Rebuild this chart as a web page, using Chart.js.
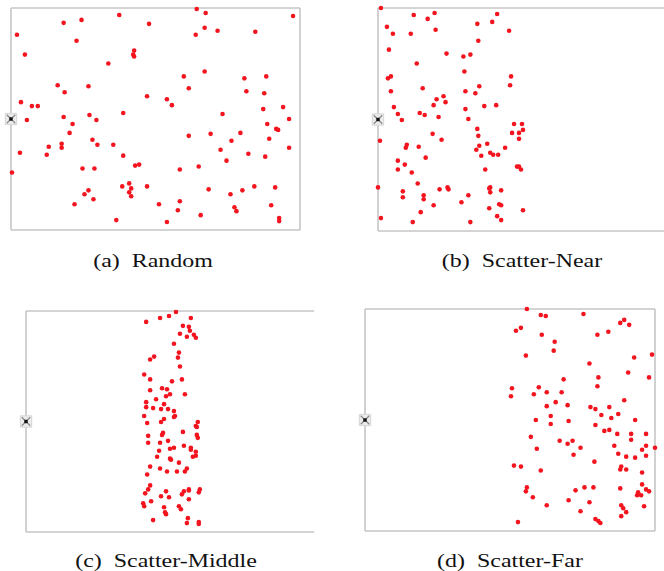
<!DOCTYPE html>
<html>
<head>
<meta charset="utf-8">
<script src="https://cdn.jsdelivr.net/npm/chart.js@4.4.1/dist/chart.umd.min.js"></script>
<style>
  html, body { margin: 0; padding: 0; background: #fff; overflow: hidden; }
  body { width: 664px; height: 571px; position: relative; }
  .panel { position: absolute; }
  .cap {
    position: absolute;
    font-family: "Liberation Serif", "Times New Roman", serif;
    font-size: 19px;
    color: #111;
    white-space: nowrap;
    transform: translate(-50%, -50%) scaleX(1.26);
  }
</style>
</head>
<body>
<div class="panel" id="pa"><canvas></canvas></div>
<div class="panel" id="pb"><canvas></canvas></div>
<div class="panel" id="pc"><canvas></canvas></div>
<div class="panel" id="pd"><canvas></canvas></div>
<div class="cap" style="left:153px;top:261px">(a)&nbsp; Random</div>
<div class="cap" style="left:522px;top:261px">(b)&nbsp; Scatter-Near</div>
<div class="cap" style="left:166px;top:561px">(c)&nbsp; Scatter-Middle</div>
<div class="cap" style="left:510px;top:561px">(d)&nbsp; Scatter-Far</div>
<script>
/* globals Chart:false */

// sensor positions, in field units (x from the left edge, y from the top edge)
const randomX = [109,71,53,139,6,66,124,123,124,14,98,47,78,54,137,10,21,27,113,79,53,16,86,62,59,82,51,87,103,38,51,9,36,113,129,125,1,72,84,119,112,121,137,78,119,74,121,83,64,149,106,
  187,196,284,195,208,186,246,195,174,257,235,179,237,255,157,162,254,274,213,280,258,267,269,179,201,231,222,260,280,211,239,256,217,189,170,199,245,266,233,221,170,262,168,225,227,191,270,270,157]
const randomY = [7,12,15,16,27,33,43,47,49,47,56,78,79,85,89,95,99,99,106,108,110,113,113,117,126,133,137,138,138,140,141,146,148,149,158,159,166,162,162,177,180,182,180,184,186,188,190,193,198,198,214,
  1,5,8,20,23,27,24,64,69,69,71,81,84,86,92,98,102,100,107,112,117,122,123,129,127,126,134,132,141,143,147,150,154,160,163,183,180,181,184,188,195,199,204,201,205,209,212,215,216]

const nearX = [3,36,57,50,120,100,115,9,15,33,58,132,101,11,69,86,93,39,87,13,10,134,133,102,45,13,88,98,66,59,
  68,56,16,107,119,88,20,42,47,61,24,91,137,145,146,100,135,142,55,101,142,2,64,29,28,41,102,110,99,128,
  113,116,121,104,48,20,27,140,142,144,20,34,108,40,0,70,71,62,113,112,124,25,113,46,91,25,46,84,56,122,
  124,112,146,43,120,3,124,35,93]
const nearY = [0,7,5,11,6,16,14,19,26,26,22,23,33,42,46,49,47,56,64,69,71,69,78,79,81,84,84,86,89,92,
  95,98,100,99,98,102,107,106,108,110,113,112,117,117,123,122,126,126,127,129,132,134,133,138,141,140,139,137,143,141,
  146,148,148,149,151,154,158,160,160,163,163,166,163,177,181,181,183,183,181,182,184,185,186,189,189,191,193,196,199,198,
  199,202,204,206,210,212,214,216,216]

const middleX = [121,125,119,125,125,121,121,128,119,122,123,123,125,122,125,123,120,126,118,119,128,
  151,144,135,166,158,164,165,155,169,162,171,149,154,153,129,155,147,157,137,142,
  145,141,160,131,139,136,143,149,150,149,139,136,173,171,172,158,138,137,172,173,
  135,143,159,149,145,166,166,134,171,171,168,132,145,146,154,135,162,142,152,160,
  141,164,164,159,175,174,157,136,144,164,139,154,156,140,141,163,174,162,174]
const middleY = [11,49,64,69,80,92,97,98,106,113,126,133,157,165,176,180,184,192,194,197,211,
  1,5,7,7,15,16,20,23,24,26,27,33,42,47,46,56,71,69,78,79,
  84,86,84,89,94,99,99,101,106,107,109,112,112,116,117,122,123,125,125,128,
  133,131,136,138,139,138,140,141,142,146,147,147,149,150,153,159,159,162,162,162,
  182,180,181,182,180,183,185,187,188,190,198,197,200,203,205,209,213,214,215]

const farX = [163,177,182,220,261,257,266,157,152,178,234,245,191,190,162,289,271,226,265,235,
  286,200,234,148,175,183,198,170,147,261,192,183,204,227,232,246,238,255,187,248,
  172,205,272,187,232,241,246,254,268,283,167,268,196,209,204,251,283,292,217,173,
  279,255,210,283,263,272,231,150,157,258,257,263,177,279,279,163,162,212,221,230,
  257,283,286,275,274,278,169,205,226,183,258,281,260,263,217,258,232,235,237,154]
const farY = [0,6,7,5,11,14,16,19,22,26,26,23,33,42,47,46,49,55,64,69,
  69,71,78,80,79,84,84,86,88,92,94,98,97,99,101,99,107,106,108,110,
  112,113,112,116,117,123,122,126,126,126,129,132,133,133,136,138,138,140,140,141,
  142,146,147,148,149,150,154,158,159,159,162,162,163,165,177,180,184,183,180,180,
  181,182,184,185,188,188,190,193,195,198,198,199,201,205,204,209,212,214,216,215]

// the sink sits on the left edge, half way down
const sinkX = [0];

(() => {
  'use strict'

  const PAD = 8

  // frame lines drawn along the scale limits
  const framePlugin = {
    id: 'frame',
    beforeDatasetsDraw (chart, args, opts) {
      const { ctx } = chart
      const xs = chart.scales.x
      const ys = chart.scales.y
      const l = xs.getPixelForValue(xs.min)
      const r = xs.getPixelForValue(xs.max)
      const t = ys.getPixelForValue(ys.min)
      const b = ys.getPixelForValue(ys.max)
      ctx.save()
      ctx.strokeStyle = '#c6c6c6'
      ctx.lineWidth = 1.6
      ctx.beginPath()
      if (opts.sides.includes('t')) { ctx.moveTo(l, t); ctx.lineTo(r, t) }
      if (opts.sides.includes('b')) { ctx.moveTo(l, b); ctx.lineTo(r, b) }
      if (opts.sides.includes('l')) { ctx.moveTo(l, t); ctx.lineTo(l, b) }
      if (opts.sides.includes('r')) { ctx.moveTo(r, t); ctx.lineTo(r, b) }
      ctx.stroke()
      ctx.restore()
    }
  }

  function makePanel (id, left, top, w, h, xs, ys, sides) {
    const box = document.getElementById(id)
    box.style.left = (left - PAD) + 'px'
    box.style.top = (top - PAD) + 'px'
    box.style.width = (w + 2 * PAD) + 'px'
    box.style.height = (h + 2 * PAD) + 'px'

    const pts = xs.map((x, i) => ({ x, y: ys[i] }))
    const sink = sinkX.map(x => ({ x, y: h / 2 }))

    return new Chart(box.querySelector('canvas'), {
      type: 'scatter',
      data: {
        datasets: [
          { data: sink, order: 0, pointStyle: 'rect', pointRadius: 2.4, backgroundColor: '#111', borderWidth: 0, clip: false },
          { data: sink, order: 1, pointStyle: 'crossRot', pointRadius: 6, borderColor: '#8a8a8a', borderWidth: 1.2, clip: false },
          { data: sink, order: 2, pointStyle: 'rect', pointRadius: 8, backgroundColor: '#ececec', borderColor: '#d6d6d6', borderWidth: 1, clip: false },
          { data: pts, order: 3, pointRadius: 2.3, backgroundColor: '#f2141e', borderWidth: 0, clip: false }
        ]
      },
      options: {
        responsive: true,
        maintainAspectRatio: false,
        animation: false,
        layout: { padding: PAD },
        plugins: {
          legend: { display: false },
          tooltip: { enabled: false },
          frame: { sides }
        },
        scales: {
          x: { type: 'linear', min: 0, max: w, display: false },
          y: { type: 'linear', min: 0, max: h, reverse: true, display: false }
        }
      },
      plugins: [framePlugin]
    })
  }

  makePanel('pa', 10, 7, 291, 224, randomX, randomY, 'ltbr')
  makePanel('pb', 377, 7, 290, 225, nearX, nearY, 'ltb')
  makePanel('pc', 25, 310, 290, 223, middleX, middleY, 'ltb')
  makePanel('pd', 364, 308, 292, 224, farX, farY, 'ltbr')
})()
</script>
</body>
</html>
